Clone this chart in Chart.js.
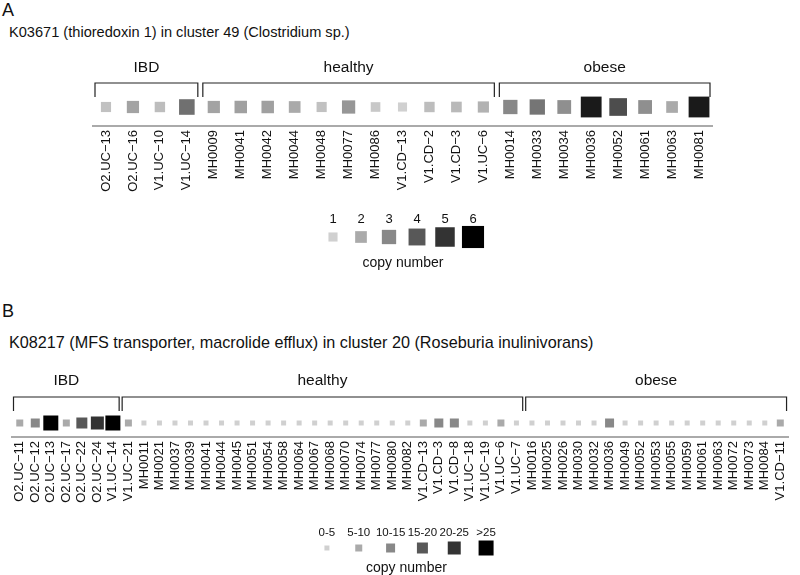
<!DOCTYPE html>
<html>
<head>
<meta charset="utf-8">
<script src="https://cdn.jsdelivr.net/npm/chart.js@4.4.0/dist/chart.umd.min.js"></script>
<style>
  body { margin: 0; background: #fff; }
  #page { position: relative; width: 800px; height: 575px; overflow: hidden; font-family: "Liberation Sans", Arial, sans-serif; color: #111; }
  .txt { position: absolute; white-space: nowrap; }
  .panel { left: 2px; font-size: 18px; }
  .sub { left: 9px; }
  canvas { position: absolute; left: 0; }
</style>
</head>
<body>
<div id="page">
  <div class="txt panel" style="top:0px">A</div>
  <div class="txt sub" style="top:24px; font-size:14.6px">K03671 (thioredoxin 1) in cluster 49 (Clostridium sp.)</div>
  <canvas id="chartA" width="800" height="165" style="top:40px"></canvas>
  <canvas id="legendA" width="800" height="70" style="top:205px"></canvas>

  <div class="txt panel" style="top:301px">B</div>
  <div class="txt sub" style="top:333px; font-size:16.2px">K08217 (MFS transporter, macrolide efflux) in cluster 20 (Roseburia inulinivorans)</div>
  <canvas id="chartB" width="800" height="160" style="top:355px"></canvas>
  <canvas id="legendB" width="800" height="62" style="top:515px"></canvas>
</div>

<script>
// ---- data, panel A (mean copy number per sample) ----
const groupNamesA = ['IBD', 'healthy', 'obese'];
const groupSizesA = [4, 11, 8];
const samplesA = [
  'O2.UC-13', 'O2.UC-16', 'V1.UC-10', 'V1.UC-14',
  'MH0009', 'MH0041', 'MH0042', 'MH0044', 'MH0048', 'MH0077', 'MH0086',
  'V1.CD-13', 'V1.CD-2', 'V1.CD-3', 'V1.UC-6',
  'MH0014', 'MH0033', 'MH0034', 'MH0036', 'MH0052', 'MH0061', 'MH0063', 'MH0081'
];
const copyA = [
  1.4, 2.2, 1.5, 3.5,
  2.2, 2.3, 2.3, 2.0, 1.4, 2.6, 1.2,
  1.0, 1.5, 1.6, 1.8,
  3.0, 3.4, 2.8, 5.5, 4.3, 2.8, 2.0, 5.5
];
const legendLabelsA = ['1', '2', '3', '4', '5', '6'];
const legendLevelsA = [1, 2, 3, 4, 5, 6];

// ---- data, panel B (copy number class 1..6 = 0-5 ... >25) ----
const groupNamesB = ['IBD', 'healthy', 'obese'];
const groupSizesB = [7, 26, 17];
const samplesB = [
  'O2.UC-11', 'O2.UC-12', 'O2.UC-13', 'O2.UC-17', 'O2.UC-22', 'O2.UC-24', 'V1.UC-14',
  'V1.UC-21', 'MH0011', 'MH0021', 'MH0037', 'MH0039', 'MH0041', 'MH0044', 'MH0045',
  'MH0051', 'MH0054', 'MH0058', 'MH0064', 'MH0067', 'MH0068', 'MH0070', 'MH0074',
  'MH0077', 'MH0080', 'MH0082', 'V1.CD-13', 'V1.CD-3', 'V1.CD-8', 'V1.UC-18',
  'V1.UC-19', 'V1.UC-6', 'V1.UC-7',
  'MH0016', 'MH0025', 'MH0026', 'MH0030', 'MH0032', 'MH0036', 'MH0049', 'MH0052',
  'MH0053', 'MH0055', 'MH0059', 'MH0061', 'MH0063', 'MH0072', 'MH0073', 'MH0084',
  'V1.CD-11'
];
const copyB = [
  2, 3, 6, 2, 4, 5, 6,
  2, 1, 1, 1, 1, 1, 1, 1,
  1, 1, 1, 1, 1, 1, 1, 1,
  1, 1, 1, 2, 3, 3, 1,
  1, 2, 1,
  1, 1, 1, 1, 1, 3, 1, 1,
  1, 1, 1, 1, 1, 1, 1, 1,
  2
];
const legendLabelsB = ['0-5', '5-10', '10-15', '15-20', '20-25', '>25'];
const legendLevelsB = [1, 2, 3, 4, 5, 6];

// ---- styling helpers ----
const FONT = '"Liberation Sans", Arial, sans-serif';
Chart.defaults.font.family = FONT;
Chart.defaults.color = '#111';

const greys = [208, 170, 136, 88, 51, 0]; // level 1..6
function greyFor(v) {
  const t = Math.min(Math.max(v, 1), 6) - 1;
  const i = Math.min(Math.floor(t), 4);
  const g = Math.round(greys[i] + (greys[i + 1] - greys[i]) * (t - i));
  return `rgb(${g},${g},${g})`;
}
const sideA = v => 6.5 + 2.6 * v;
const sideB = v => 3 + 2 * v;

const bracketPlugin = {
  id: 'brackets',
  afterDraw(chart, args, o) {
    if (!o || !o.names) return;
    const ctx = chart.ctx;
    const x = chart.scales.x;
    const step = x.getPixelForValue(1) - x.getPixelForValue(0);
    let start = 0;
    ctx.save();
    o.names.forEach((name, g) => {
      const end = start + o.sizes[g] - 1;
      const x0 = x.getPixelForValue(start) - step / 2 + o.gap / 2;
      const x1 = x.getPixelForValue(end) + step / 2 - o.gap / 2;
      ctx.strokeStyle = '#222';
      ctx.lineWidth = 1.2;
      ctx.beginPath();
      ctx.moveTo(x0, o.tipY);
      ctx.lineTo(x0, o.lineY);
      ctx.lineTo(x1, o.lineY);
      ctx.lineTo(x1, o.tipY);
      ctx.stroke();
      ctx.fillStyle = '#111';
      ctx.font = '15.5px ' + FONT;
      ctx.textAlign = 'center';
      ctx.textBaseline = 'middle';
      ctx.fillText(name, (x0 + x1) / 2, o.labelY);
      start = end + 1;
    });
    ctx.restore();
  }
};

function rowChart(id, samples, values, sideFn, cfg) {
  return new Chart(document.getElementById(id), {
    type: 'scatter',
    data: {
      datasets: [{
        data: samples.map((s, i) => ({ x: s, y: 'row', v: values[i] })),
        pointStyle: 'rect',
        pointRadius: c => sideFn(c.raw.v) / Math.SQRT2,
        pointHoverRadius: c => sideFn(c.raw.v) / Math.SQRT2,
        pointBackgroundColor: c => greyFor(c.raw.v),
        pointBorderWidth: 0,
        clip: false
      }]
    },
    options: {
      responsive: false,
      animation: false,
      events: [],
      layout: { padding: cfg.padding },
      scales: {
        x: {
          type: 'category',
          labels: samples,
          offset: true,
          grid: { display: false, drawTicks: false },
          border: { display: true, color: '#aaa', width: 2 },
          ticks: {
            autoSkip: false, minRotation: 90, maxRotation: 90, padding: 4,
            font: { size: 13 }, color: '#111',
            callback(v) { return this.getLabelForValue(v).replace('-', '\u2212'); }
          },
          afterFit: s => { s.height = cfg.axisHeight; }
        },
        y: { type: 'category', labels: ['row'], offset: true, display: false }
      },
      plugins: {
        legend: { display: false },
        tooltip: { enabled: false },
        brackets: cfg.brackets
      }
    },
    plugins: [bracketPlugin]
  });
}

function legendChart(id, labels, levels, sideFn, cfg) {
  return new Chart(document.getElementById(id), {
    type: 'scatter',
    data: {
      datasets: [{
        data: labels.map((l, i) => ({ x: l, y: 'row', v: levels[i] })),
        pointStyle: 'rect',
        pointRadius: c => sideFn(c.raw.v) / Math.SQRT2,
        pointHoverRadius: c => sideFn(c.raw.v) / Math.SQRT2,
        pointBackgroundColor: c => greyFor(c.raw.v),
        pointBorderWidth: 0,
        clip: false
      }]
    },
    options: {
      responsive: false,
      animation: false,
      events: [],
      layout: { padding: cfg.padding },
      scales: {
        x: {
          type: 'category', position: 'top', labels: labels, offset: true,
          grid: { display: false, drawTicks: false },
          border: { display: false },
          ticks: { autoSkip: false, maxRotation: 0, padding: 0, font: { size: cfg.tickSize }, color: '#111' },
          afterFit: s => { s.height = cfg.topHeight; }
        },
        xb: {
          type: 'category', position: 'bottom', labels: labels, offset: true,
          grid: { display: false, drawTicks: false },
          border: { display: false },
          ticks: { display: false },
          title: { display: true, text: 'copy number', font: { size: 14 }, color: '#111', padding: { top: 0, bottom: cfg.titlePad } },
          afterFit: s => { s.height = cfg.bottomHeight; }
        },
        y: { type: 'category', labels: ['row'], offset: true, display: false }
      },
      plugins: { legend: { display: false }, tooltip: { enabled: false } }
    }
  });
}

rowChart('chartA', samplesA, copyA, sideA, {
  padding: { top: 48, bottom: 9, left: 92.5, right: 87.5 },
  axisHeight: 70,
  brackets: { names: groupNamesA, sizes: groupSizesA, gap: 5, lineY: 43, tipY: 57, labelY: 28 }
});
legendChart('legendA', legendLabelsA, legendLevelsA, sideA, {
  padding: { top: 0, bottom: 0, left: 319, right: 313 },
  topHeight: 22, bottomHeight: 28, tickSize: 13, titlePad: 3
});

rowChart('chartB', samplesB, copyB, sideB, {
  padding: { top: 54, bottom: 8, left: 12, right: 4 },
  axisHeight: 70,
  brackets: { names: groupNamesB, sizes: groupSizesB, gap: 3, lineY: 42, tipY: 56, labelY: 26 }
});
legendChart('legendB', legendLabelsB, legendLevelsB, sideB, {
  padding: { top: 0, bottom: 0, left: 311, right: 298 },
  topHeight: 25, bottomHeight: 21, tickSize: 11.5, titlePad: 0
});
</script>
</body>
</html>
